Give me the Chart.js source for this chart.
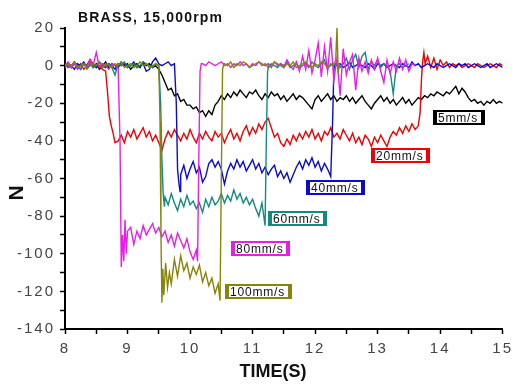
<!DOCTYPE html>
<html>
<head>
<meta charset="utf-8">
<title>BRASS, 15,000rpm</title>
<script src="https://cdn.jsdelivr.net/npm/chart.js@4.4.0/dist/chart.umd.min.js"></script>
<style>
  html, body { margin: 0; padding: 0; background: #fff; }
  #wrap { width: 517px; height: 384px; }
</style>
</head>
<body>
<div id="wrap"><canvas id="force-chart" width="517" height="384"></canvas></div>
<script>
// Traces: each segment is [start time (s), sample step (s), force values (N)]
const trace5 = [
  [8.0, 0.05, [0, 1, -1, 2, 0, -2, 1, 0, 3, -1, 1, -2, 0, 2, -1, 1, 0, -1, 2, 0, 1, -2, 0, 1, -1, 2, 0, 1, -1, 0]],
  [9.5, 0.05, [
    -2, -5, -9, -13, -12, -16, -15, -19, -18, -21,
    -21, -23, -22, -25, -24, -27, -24, -26, -21, -19,
    -16, -18, -15, -17, -14, -16, -13, -15, -17, -14,
    -15, -13, -16, -18, -15, -17, -14, -16, -15, -18,
    -16, -19, -17, -15, -18, -16, -17, -19, -21, -23,
    -18, -16, -19, -17, -15, -18, -16, -19, -17, -18,
    -16, -19, -17, -20, -18, -16, -19, -21, -23, -20,
    -18, -16, -19, -17, -20, -18, -21, -19, -17, -20,
    -18, -21, -19, -17, -18, -16, -17, -15, -16, -14,
    -15, -16, -14, -15, -13, -11, -15, -12, -14, -17,
    -19, -18, -20, -19, -21, -19, -20, -18, -20, -19,
    -20]]
];

const trace20 = [
  [8.0, 0.05, [1, -1, 0, 2, -1, 1, -2, 0, 3, 1, -1, 0, -2]],
  [8.65, 0.03, [-3, -14, -27, -32, -36, -41]],
  [8.85, 0.05, [
    -40, -37, -41, -35, -38, -34, -39, -36, -33, -38,
    -35, -40, -37, -41, -45, -39, -35, -38, -34, -37,
    -40, -36, -39, -34, -38, -41, -36, -39, -35, -38,
    -40, -35, -38, -36, -41, -37, -34, -39, -36, -40,
    -35, -32, -37, -33, -36, -31, -34, -30, -28, -33,
    -38, -36, -41, -43, -39, -42, -37, -40, -36, -39,
    -35, -38, -34, -39, -36, -40, -35, -37, -33, -38,
    -36, -39, -34, -37, -40, -36, -41, -38, -42, -37,
    -39, -43, -38, -41, -37, -40, -43, -38, -35, -37,
    -33, -36, -32, -35, -31, -34, -32]],
  [13.68, 0.02, [-25, -8, 2, 7, 1]],
  [13.8, 0.05, [5, -1, 4, -2, 3, 0, 2, -1, 1, 0, 1, -1, 0, 1, 0, -1, 1, 0, -1, 0, 1, 0, -1, 1, 0]]
];

const trace40 = [
  [8.0, 0.05, [-1, 1, 0, -2, 1, 0, 2, -1, 0, 1, -1, 2, 0, -1, 1, 0, -2, 1, 0, 1, -1, 0, 2, -1, 0, 1, -3, -2, 2, 4, 1, 0, 1, 2, 0, 1]],
  [9.78, 0.02, [-20, -55, -62, -67]],
  [9.85, 0.05, [
    -58, -53, -60, -55, -51, -57, -54, -62, -59, -52,
    -50, -54, -51, -55, -63, -56, -52, -55, -50, -54,
    -51, -56, -53, -50, -55, -52, -57, -54, -58, -55,
    -53, -59, -56, -60, -57, -62, -58, -54, -51, -55,
    -50, -53, -49, -54, -51, -56, -52, -55, -59]],
  [12.28, 0.02, [-30, -2, 1]],
  [12.35, 0.05, [
    0, 1, -1, 0, 2, -1, 0, 1, 0, -1,
    1, 0, -2, 1, 0, 1, -1, 0, 1, 0,
    -1, 1, 0, -1, 2, 0, 1, -1, 0, 1,
    0, -1, 1, 0, -1, 0, 1, 0, -1, 1,
    0, 1, -1, 0, 1, 0, -1, 0, 1, -1,
    0, 1, 0, -1]]
];

const trace60 = [
  [8.0, 0.05, [1, 0, -1, 2, 0, -2, 1, 0, 1, -1, 0, 2, -1, 0, 1, -1, -5, 1, 0, 2, -1, 0, 1, -1, 0, 2, 1, 0, -1, 1, 0]],
  [9.53, 0.02, [-20, -50, -68, -75]],
  [9.6, 0.05, [
    -70, -74, -68, -73, -77, -71, -75, -69, -74, -72,
    -76, -73, -78, -71, -75, -70, -74, -72, -68, -73,
    -69, -72, -66, -71, -68, -73, -70, -74, -71, -76,
    -80, -73, -85]],
  [11.22, 0.02, [-40, -3, 0]],
  [11.3, 0.05, [
    1, 0, -1, 1, 0, 2, -1, 0, 1, -1,
    0, 1, -1, 2, 0, -1, 1, 3, -2, 1,
    0, 2, -1, 1, 4, -2, 3, 6, -1, 5,
    7, -2, 2, 0, 3, -1, 1, 0, -3, -15,
    0, 1, -1, 0, 1]]
];

const trace80 = [
  [8.0, 0.05, [0, 2, -1, 1, -2, 0, 1, -1, 3, 0, 7, -1, 1, 0, -2, 1, 0, -1]],
  [8.88, 0.02, [-40, -107, -90, -104, -82, -100, -88]],
  [9.05, 0.05, [
    -86, -95, -88, -92, -85, -90, -87, -84, -89, -86,
    -91, -88, -94, -90, -96, -89, -93, -97, -92, -99,
    -103, -98]],
  [10.12, 0.02, [-104, -50, -3, 1]],
  [10.2, 0.05, [
    1, 0, 2, 1, 0, 1, 2, 0, 1, -1,
    1, 0, 2, 0, 1, -1, 1, 0, 2, 1,
    0, 1, -1, 2, 0, 1, -1, 3, 0, -2,
    2, -3, 5, -2, 8, -4, 3, 12, -6, 10,
    -3, 15, -8, 4, -16, 9, -5, 2, 6, -13,
    4, -3, 2, -4, 3, -2, 4, -3, -9, 3,
    -4, 2, -3, 4, -2, 3, -3, 1, 0]]
];

const trace100 = [
  [8.0, 0.05, [-1, 1, 0, 2, -1, 0, 1, -2, 0, 1, 0, 2, -1, 1, 0, -1, 1, 0, 2, -1, 0, 1, -1, 0, 2, 0, 1, -1, 0, 1, 0]],
  [9.52, 0.015, [-30, -90, -126, -108]],
  [9.58, 0.03, [-122, -105, -118, -110, -116]],
  [9.75, 0.05, [
    -103, -112, -101, -109, -105, -113, -107, -111, -106, -115,
    -110, -117, -113, -121, -116]],
  [10.48, 0.02, [-125, -60, -2, 1]],
  [10.55, 0.05, [
    1, 0, 2, -1, 1, 0, 2, 1, -1, 0,
    1, 2, 0, 1, -1, 0, 2, 1, 0, -1,
    1, 0, 2, -1, 0, 1, 2, 0, -1, 1,
    0, 2, 1, -1, 0, 1]],
  [12.33, 0.02, [3, 20, -4, 1]]
];

const seriesLabels = ['100mm/s', '80mm/s', '60mm/s', '40mm/s', '20mm/s', '5mm/s'];
const xTicks = [8, 9, 10, 11, 12, 13, 14, 15];
const yTicks = [20, 0, -20, -40, -60, -80, -100, -120, -140];

const ChartPage = {
  font: "'Liberation Sans', Arial, sans-serif",
  colors: ['#85850a', '#e81ee8', '#138a80', '#0a0ad2', '#f00000', '#000000'],
  // label box anchors (left edge, vertical centre) in data units
  boxes: [[10.56, -120.2], [10.65, -97.3], [11.24, -81.6], [11.85, -64.9], [12.9, -47.9], [13.89, -27.9]],

  init: function() {
    const traces = [trace100, trace80, trace60, trace40, trace20, trace5];
    const datasets = traces.map((segs, i) => ({
      label: seriesLabels[i],
      data: this.buildPoints(segs),
      borderColor: this.colors[i],
      borderWidth: 1.4,
      pointRadius: 0,
      tension: 0,
      fill: false
    }));

    const font = this.font;
    const self = this;

    new Chart(document.getElementById('force-chart'), {
      type: 'line',
      data: { datasets: datasets },
      options: {
        responsive: false,
        animation: false,
        layout: { padding: { top: 28, right: 9, left: 0, bottom: 0 } },
        plugins: { legend: { display: false }, tooltip: { enabled: false }, title: { display: false } },
        scales: {
          x: {
            type: 'linear',
            min: xTicks[0],
            max: xTicks[xTicks.length - 1],
            afterFit: (scale) => { scale.height = 55; },
            border: { display: true, color: '#000', width: 2 },
            grid: { drawOnChartArea: false, drawTicks: true, tickLength: 5, tickColor: '#000', tickWidth: 1.5 },
            ticks: {
              stepSize: 0.5,
              autoSkip: false,
              maxRotation: 0,
              padding: 6,
              color: '#444',
              font: { family: font, size: 15 },
              callback: (v) => xTicks.includes(v) ? String(v) : ''
            }
          },
          y: {
            type: 'linear',
            min: yTicks[yTicks.length - 1],
            max: yTicks[0],
            afterFit: (scale) => { scale.width = 65; },
            border: { display: true, color: '#000', width: 2 },
            grid: { drawOnChartArea: false, drawTicks: true, tickLength: 5, tickColor: '#000', tickWidth: 1.5 },
            ticks: {
              stepSize: 10,
              autoSkip: false,
              padding: 5,
              color: '#444',
              font: { family: font, size: 15 },
              callback: (v) => yTicks.includes(v) ? String(v) : ''
            }
          }
        }
      },
      plugins: [{
        id: 'spacing',
        beforeDraw: (chart) => { chart.ctx.letterSpacing = '2px'; }
      }, {
        id: 'annotations',
        afterDraw: (chart) => self.drawText(chart)
      }]
    });
  },

  /**
   * Turn [t0, dt, values] segments into {x, y} points
   */
  buildPoints: function(segs) {
    const pts = [];
    segs.forEach(([t0, dt, vals]) => {
      vals.forEach((v, i) => pts.push({ x: +(t0 + i * dt).toFixed(3), y: v }));
    });
    return pts;
  },

  /**
   * Title, axis names and the speed label boxes
   */
  drawText: function(chart) {
    const ctx = chart.ctx;
    const xs = chart.scales.x;
    const ys = chart.scales.y;
    ctx.save();
    ctx.fillStyle = '#111';
    ctx.textBaseline = 'alphabetic';

    ctx.letterSpacing = '1.2px';
    ctx.font = 'bold 14px ' + this.font;
    ctx.textAlign = 'left';
    ctx.fillText('BRASS, 15,000rpm', 78, 22);

    ctx.letterSpacing = '0px';
    ctx.font = 'bold 18px ' + this.font;
    ctx.textAlign = 'center';
    ctx.fillText('TIME(S)', 273, 377);

    ctx.save();
    ctx.translate(23, 193);
    ctx.rotate(-Math.PI / 2);
    ctx.font = 'bold 21px ' + this.font;
    ctx.fillText('N', 0, 0);
    ctx.restore();

    ctx.letterSpacing = '0.8px';
    ctx.font = '12px ' + this.font;
    ctx.textAlign = 'left';
    this.boxes.forEach(([bx, by], i) => {
      const text = seriesLabels[i];
      const left = Math.round(xs.getPixelForValue(bx));
      const mid = Math.round(ys.getPixelForValue(by));
      const w = Math.round(ctx.measureText(text).width) + 12;
      const h = 15;
      const top = mid - Math.round(h / 2);
      ctx.fillStyle = this.colors[i];
      ctx.fillRect(left, top, w, h);
      ctx.fillStyle = '#fff';
      ctx.fillRect(left + 4, top + 2, w - 8, h - 4);
      ctx.fillStyle = '#111';
      ctx.fillText(text, left + 5, top + 12);
    });
    ctx.restore();
  }
};

if (document.readyState === 'loading') {
  document.addEventListener('DOMContentLoaded', () => ChartPage.init());
} else {
  ChartPage.init();
}
</script>
</body>
</html>
